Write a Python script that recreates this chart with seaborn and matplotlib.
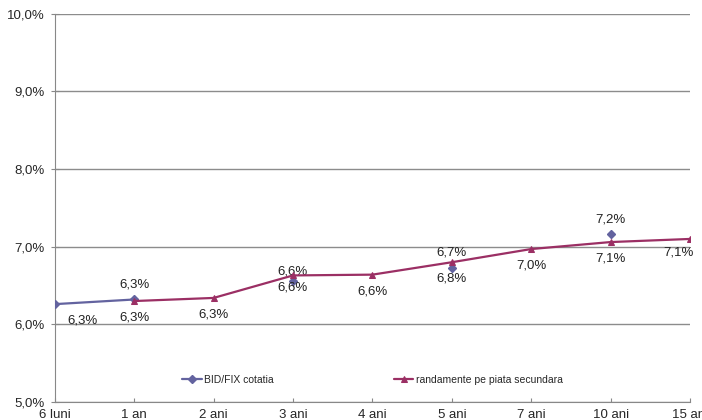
import numpy as np
import pandas as pd
import matplotlib
matplotlib.use("Agg")
import matplotlib.pyplot as plt
import seaborn as sns
from matplotlib.ticker import FuncFormatter

# data (values in %)
maturities = ["6 luni", "1 an", "2 ani", "3 ani", "4 ani", "5 ani", "7 ani", "10 ani", "15 ani"]
bid_fix = [6.26, 6.32, np.nan, 6.56, np.nan, 6.73, np.nan, 7.16, np.nan]
secundara = [np.nan, 6.30, 6.34, 6.63, 6.64, 6.80, 6.97, 7.06, 7.10]

blue = "#63639f"
red = "#9b2f64"

sns.set_style("white")
plt.rcParams["font.family"] = ["Liberation Sans", "DejaVu Sans"]

fig = plt.figure(figsize=(7.02, 4.2), dpi=100)
ax = fig.add_axes([0.078, 0.043, 0.905, 0.924])

pos = np.arange(len(maturities))
df = pd.DataFrame({"pos": pos, "bid": bid_fix, "sec": secundara})

# BID/FIX: matplotlib keeps the gaps where values are missing
ax.plot(df["pos"], df["bid"], color=blue, lw=1.6, marker="D", ms=4.5,
        label="BID/FIX cotatia", zorder=3)
sec = df.dropna(subset=["sec"])
sns.lineplot(x="pos", y="sec", data=sec, ax=ax, color=red, lw=1.6, marker="^",
             markersize=5, markeredgecolor=red, label="randamente pe piata secundara",
             zorder=4)

def pct(v):
    return f"{v:.1f}%".replace(".", ",")

lab = dict(ha="center", va="center", fontsize=9.5, color="#222222",
           textcoords="offset points")
for x, v in zip(pos, bid_fix):
    if np.isnan(v):
        continue
    if x == 0:
        off = (20, -12)
    elif maturities[x] == "3 ani":
        off = (0, 7)
    else:
        off = (0, 11)
    ax.annotate(pct(v), (x, v), xytext=off, **lab)
for x, v in zip(pos, secundara):
    if np.isnan(v):
        continue
    if x == len(maturities) - 1:
        off = (-8, -10)
    elif maturities[x] == "3 ani":
        off = (0, -9)
    else:
        off = (0, -12)
    ax.annotate(pct(v), (x, v), xytext=off, **lab)

ax.set_xlim(0, len(maturities) - 1)
ax.set_ylim(5.0, 10.0)
ax.set_xticks(pos)
ax.set_xticklabels(maturities, fontsize=9.5)
ax.set_yticks(np.arange(5, 10.01, 1))
ax.yaxis.set_major_formatter(FuncFormatter(lambda v, p: pct(v)))
ax.tick_params(axis="y", labelsize=9.5, length=6, direction="inout",
               color="#888888", left=True, pad=4)
ax.tick_params(axis="x", length=3, direction="in", color="#888888",
               bottom=True, pad=5)
ax.yaxis.grid(True, color="#8c8c8c", lw=1)
ax.set_axisbelow(True)
ax.set_xlabel("")
ax.set_ylabel("")
for s in ["top", "right"]:
    ax.spines[s].set_visible(False)
for s in ["left", "bottom"]:
    ax.spines[s].set_color("#888888")

ax.legend(loc="center", bbox_to_anchor=(0.5, 0.057), ncol=2, frameon=False,
          fontsize=7.5, handlelength=1.9, columnspacing=11.5, handletextpad=0.2)

fig.savefig("out.png", dpi=100)
